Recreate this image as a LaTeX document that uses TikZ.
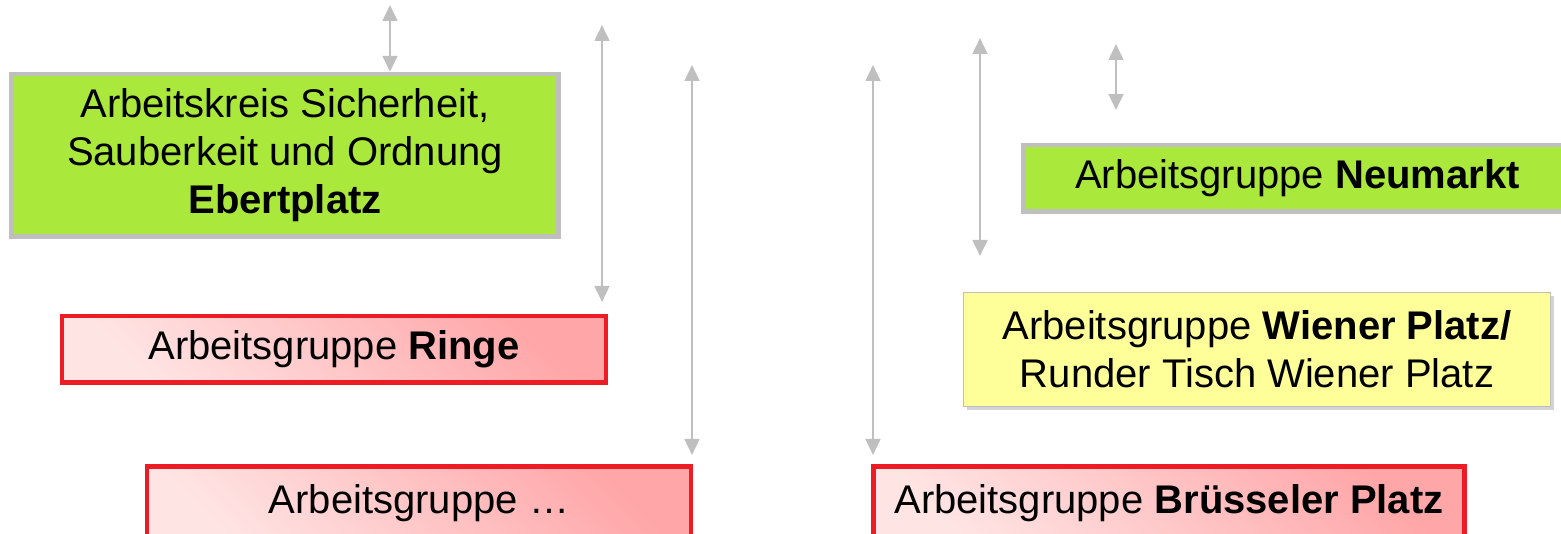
\documentclass[tikz,border=0pt]{standalone}
\usepackage{fontspec}
\setmainfont{Liberation Sans}
\usepackage{tikz}
\usetikzlibrary{arrows.meta,shadows}

\definecolor{kgreen}{RGB}{170,232,60}
\definecolor{kgray}{RGB}{191,191,191}
\definecolor{kred}{RGB}{237,28,36}
\definecolor{kpinkdark}{RGB}{255,166,168}
\definecolor{kpinklight}{RGB}{255,228,228}
\definecolor{kyellow}{RGB}{255,255,153}

\tikzset{
  greenbox/.style={draw=kgray, line width=3.5pt, fill=kgreen, align=center, inner sep=0pt},
  redbox/.style={draw=kred, line width=3.5pt, top color=kpinkdark, bottom color=kpinklight, shading angle=-45, align=center, inner sep=0pt},
  yellowbox/.style={draw=kgray, line width=0.75pt, fill=kyellow, align=center, inner sep=0pt,
    drop shadow={opacity=0.35, shadow xshift=2.5pt, shadow yshift=-3pt}},
  greyarrow/.style={draw=kgray, line width=2pt, {Triangle[width=11pt,length=12pt]}-{Triangle[width=11pt,length=12pt]}},
}

\begin{document}
\begin{tikzpicture}[x=0.75pt,y=0.75pt,yscale=-1,xscale=1]
\fontsize{30}{36}\selectfont
\useasboundingbox (0,0) rectangle (1561,534);

% boxes (sizes in px * 0.75)
\node [greenbox, minimum width=410pt, minimum height=122pt] (ebert) at (285,155.5)
  {Arbeitskreis Sicherheit,\\Sauberkeit und Ordnung\\\textbf{Ebertplatz}};
\node [redbox, minimum width=408pt, minimum height=50pt] (ringe) at (334,349.5)
  {Arbeitsgruppe \textbf{Ringe}};
% bottom row runs past the lower edge
\node [redbox, minimum width=408pt, minimum height=60pt, text depth=11pt] (weitere) at (419,506.5)
  {Arbeitsgruppe \dots};
\node [greenbox, minimum width=411pt, minimum height=50pt] (neumarkt) at (1297.5,178.5)
  {Arbeitsgruppe \textbf{Neumarkt}};
\node [yellowbox, minimum width=440pt, minimum height=85.5pt] (wiener) at (1257,349.5)
  {Arbeitsgruppe \textbf{Wiener Platz/}\\Runder Tisch Wiener Platz};
\node [redbox, minimum width=443pt, minimum height=60pt, text depth=11pt] (bruessel) at (1169,506.5)
  {Arbeitsgruppe \textbf{Brüsseler Platz}};

% arrow ends
\coordinate (a1) at (390,5);
\coordinate (a2t) at (602,25);
\coordinate (a2b) at (602,302);
\coordinate (a3t) at (692,65);
\coordinate (a3b) at (692,455);
\coordinate (a4t) at (873,65);
\coordinate (a4b) at (873,455);
\coordinate (a5t) at (980,38);
\coordinate (a5b) at (980,256);
\coordinate (a6t) at (1116,44);
\coordinate (a6b) at (1116,110);

% arrows
\draw [greyarrow] (a1) -- (a1 |- ebert.north);
\draw [greyarrow] (a2t) -- (a2b);
\draw [greyarrow] (a3t) -- (a3b);
\draw [greyarrow] (a4t) -- (a4b);
\draw [greyarrow] (a5t) -- (a5b);
\draw [greyarrow] (a6t) -- (a6b);

\end{tikzpicture}
\end{document}
